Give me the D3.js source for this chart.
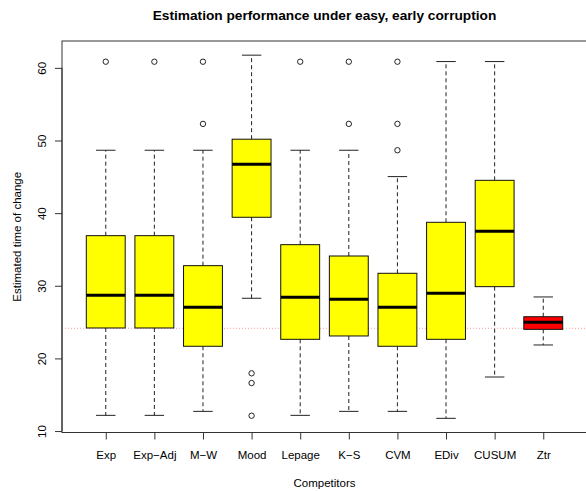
<!DOCTYPE html>
<html>
<head>
<meta charset="utf-8">
<script src="https://cdn.jsdelivr.net/npm/d3@7"></script>
<style>
  html, body { margin: 0; padding: 0; background: #fff; }
  svg { display: block; font-family: "Liberation Sans", Arial, Helvetica, sans-serif; }
</style>
</head>
<body>
<svg id="chart" width="586" height="491"></svg>
<script>
// Box-plot summaries of the estimated change time for each competitor
const categories = ["Exp", "Exp\u2212Adj", "M\u2212W", "Mood", "Lepage", "K\u2212S", "CVM", "EDiv", "CUSUM", "Ztr"];
const whiskerLow  = [12.16, 12.16, 12.71, 28.28, 12.16, 12.71, 12.71, 11.75, 17.44, 21.85];
const q1          = [24.19, 24.19, 21.67, 39.43, 22.63, 23.09, 21.67, 22.63, 29.88, 24.00];
const medians     = [28.69, 28.69, 27.03, 46.74, 28.42, 28.14, 27.03, 28.97, 37.50, 24.97];
const q3          = [36.90, 36.90, 32.77, 50.18, 35.66, 34.10, 31.72, 38.74, 44.52, 25.74];
const whiskerHigh = [48.66, 48.66, 48.66, 61.75, 48.66, 48.66, 45.03, 60.87, 60.87, 28.46];
const outliers = [
  [60.85],
  [60.85],
  [60.85, 52.29],
  [17.95, 16.61, 12.11],
  [60.85],
  [60.85, 52.29],
  [60.85, 52.29, 48.66],
  [],
  [],
  []
];
const boxFills = ["#FFFF00", "#FFFF00", "#FFFF00", "#FFFF00", "#FFFF00", "#FFFF00", "#FFFF00", "#FFFF00", "#FFFF00", "#FF0000"];
const yTicks = [10, 20, 30, 40, 50, 60];
const trueChange = 24.15;

const titleText = "Estimation performance under easy, early corruption";
const xTitle = "Competitors";
const yTitle = "Estimated time of change";

const svg = d3.select("#chart");
const plot = { left: 62, right: 587, top: 41, bottom: 432.5 };

const x = d3.scaleLinear().domain([0.1, categories.length + 0.9]).range([plot.left, plot.right]);
const y = d3.scaleLinear().domain([9.8, 63.7]).range([plot.bottom, plot.top]);
const unit = x(2) - x(1);
const boxW = unit * 0.8;
const capW = boxW * 0.5;

const rows = categories.map((c, i) => ({
  name: c, pos: i + 1,
  lo: whiskerLow[i], q1: q1[i], med: medians[i], q3: q3[i], hi: whiskerHigh[i],
  out: outliers[i], fill: boxFills[i]
}));

// reference line at the true change time
svg.append("line")
  .attr("x1", plot.left).attr("x2", plot.right)
  .attr("y1", y(trueChange)).attr("y2", y(trueChange))
  .attr("stroke", "#ff9a9a").attr("stroke-width", 1)
  .attr("stroke-dasharray", "1,2");

const g = svg.append("g").selectAll("g").data(rows).join("g");

// whiskers (dashed)
g.append("line")
  .attr("x1", d => x(d.pos)).attr("x2", d => x(d.pos))
  .attr("y1", d => y(d.q3)).attr("y2", d => y(d.hi))
  .attr("stroke", "#222").attr("stroke-dasharray", "4,3");
g.append("line")
  .attr("x1", d => x(d.pos)).attr("x2", d => x(d.pos))
  .attr("y1", d => y(d.q1)).attr("y2", d => y(d.lo))
  .attr("stroke", "#222").attr("stroke-dasharray", "4,3");

// staples
g.append("line")
  .attr("x1", d => x(d.pos) - capW / 2).attr("x2", d => x(d.pos) + capW / 2)
  .attr("y1", d => y(d.hi)).attr("y2", d => y(d.hi))
  .attr("stroke", "#222");
g.append("line")
  .attr("x1", d => x(d.pos) - capW / 2).attr("x2", d => x(d.pos) + capW / 2)
  .attr("y1", d => y(d.lo)).attr("y2", d => y(d.lo))
  .attr("stroke", "#222");

// boxes
g.append("rect")
  .attr("x", d => x(d.pos) - boxW / 2)
  .attr("width", boxW)
  .attr("y", d => y(d.q3))
  .attr("height", d => y(d.q1) - y(d.q3))
  .attr("fill", d => d.fill)
  .attr("stroke", "#111").attr("stroke-width", 1);

// medians
g.append("line")
  .attr("x1", d => x(d.pos) - boxW / 2).attr("x2", d => x(d.pos) + boxW / 2)
  .attr("y1", d => y(d.med)).attr("y2", d => y(d.med))
  .attr("stroke", "#000").attr("stroke-width", 3);

// outliers
g.selectAll("circle").data(d => d.out.map(v => ({ pos: d.pos, v })))
  .join("circle")
  .attr("cx", d => x(d.pos)).attr("cy", d => y(d.v))
  .attr("r", 2.7)
  .attr("fill", "none").attr("stroke", "#222").attr("stroke-width", 1);

// plot frame
svg.append("rect")
  .attr("x", plot.left).attr("y", plot.top)
  .attr("width", plot.right - plot.left).attr("height", plot.bottom - plot.top)
  .attr("fill", "none").attr("stroke", "#333").attr("stroke-width", 1);

// y axis
const yAxis = d3.axisLeft(y).tickValues(yTicks).tickSize(7).tickPadding(0).tickFormat(d3.format("d"));
const ya = svg.append("g").attr("transform", `translate(${plot.left},0)`).call(yAxis);
ya.select(".domain").attr("d", `M0,${y(yTicks[0])}V${y(yTicks[yTicks.length - 1])}`).attr("stroke", "#333");
ya.selectAll(".tick line").attr("stroke", "#333");
ya.selectAll(".tick text")
  .attr("x", 0).attr("dy", null)
  .attr("transform", "translate(-16,0) rotate(-90)")
  .attr("text-anchor", "middle")
  .attr("font-size", 11.5).attr("font-family", null).attr("fill", "#000");

// x axis
const xAxis = d3.axisBottom(x).tickValues(rows.map(d => d.pos)).tickSize(7).tickPadding(0)
  .tickFormat(d => categories[d - 1]);
const xa = svg.append("g").attr("transform", `translate(0,${plot.bottom})`).call(xAxis);
xa.select(".domain").attr("d", `M${x(1)},0H${x(categories.length)}`).attr("stroke", "#333");
xa.selectAll(".tick line").attr("stroke", "#333");
xa.selectAll(".tick text")
  .attr("y", 26.5).attr("dy", null)
  .attr("font-size", 11.5).attr("font-family", null).attr("fill", "#000");

// titles
const midX = (plot.left + plot.right) / 2;
svg.append("text").attr("x", midX).attr("y", 19.5)
  .attr("text-anchor", "middle").attr("font-weight", "bold").attr("font-size", 13.7)
  .text(titleText);
svg.append("text").attr("x", midX).attr("y", 487)
  .attr("text-anchor", "middle").attr("font-size", 11.5)
  .text(xTitle);
svg.append("text")
  .attr("transform", `translate(21,${(plot.top + plot.bottom) / 2}) rotate(-90)`)
  .attr("text-anchor", "middle").attr("font-size", 11.5)
  .text(yTitle);
</script>
</body>
</html>
